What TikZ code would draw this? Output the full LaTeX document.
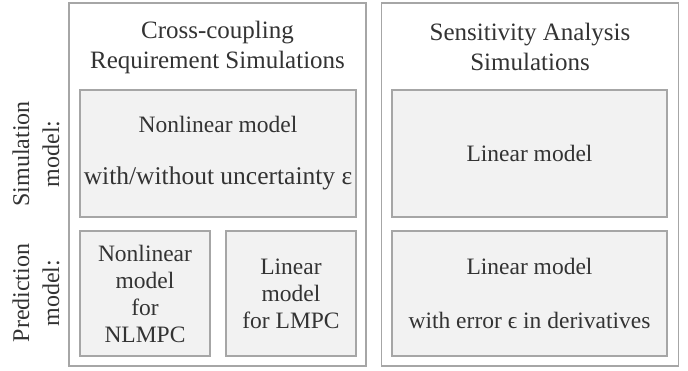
\documentclass[tikz,border=0pt]{standalone}
\usepackage{fontspec}
\setmainfont{Liberation Serif}
\usepackage{tikz}

\definecolor{boxline}{HTML}{A6A6A6}
\definecolor{boxfill}{HTML}{F2F2F2}
\definecolor{txt}{HTML}{333333}

\begin{document}
\begin{tikzpicture}[x=1pt, y=1pt,
    outer/.style={draw=boxline, line width=1.5pt, fill=white, minimum width=297pt, minimum height=363pt},
    model/.style={draw=boxline, line width=1.5pt, fill=boxfill, align=center, text=txt, inner sep=0pt,
        font=\fontsize{23.5}{27}\selectfont},
    label/.style={align=center, text=txt, font=\fontsize{24}{30}\selectfont},
    title/.style={align=center, text=txt, font=\fontsize{25}{30}\selectfont}]
            \useasboundingbox (0, 0) rectangle (688, 370);

            % Frames
            \node[outer] (CC) at (217.5, 185.5) {};
            \node[outer] (SA) at (530, 185.5) {};

            % Titles
            \node[title] (ccTitle) at (217.5, 323) {Cross-coupling\\Requirement Simulations};
            \node[title] (saTitle) at (530, 323) {Sensitivity Analysis\\Simulations};

            % Row labels
            \node[label, rotate=90] (simLabel) at (36, 216) {Simulation\\model:};
            \node[label, rotate=90] (predLabel) at (36, 77) {Prediction\\model:};

            % Models
            \node[model, minimum width=276pt, minimum height=127pt] (ccSim) at (218, 216.5)
                {Nonlinear model\\[25pt]{\fontsize{25.5}{27}\selectfont with/without uncertainty ε}};
            \node[model, minimum width=130pt, minimum height=125pt] (nlmpc) at (145, 76.5)
                {Nonlinear\\model\\for\\NLMPC};
            \node[model, minimum width=130pt, minimum height=125pt] (lmpc) at (291, 76.5)
                {Linear\\model\\for LMPC};
            \node[model, minimum width=275pt, minimum height=127pt] (saSim) at (529.5, 216.5)
                {Linear model};
            \node[model, minimum width=275pt, minimum height=125pt] (saPred) at (529.5, 76.5)
                {Linear model\\[27pt]with error ϵ in derivatives};
        \end{tikzpicture}
\end{document}
